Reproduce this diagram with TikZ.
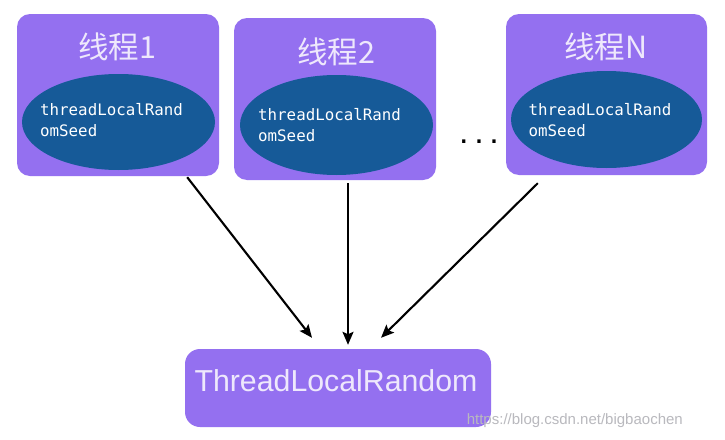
\documentclass[tikz,border=0pt]{standalone}
\usepackage{fontspec}
\setmainfont{Liberation Sans}
\newfontfamily\cjkfont{Noto Sans CJK SC}
\newfontfamily\monofont{DejaVu Sans Mono}
\usetikzlibrary{shapes.geometric,arrows.meta}
\definecolor{boxpurple}{RGB}{148,112,240}
\definecolor{ellblue}{RGB}{22,90,152}
\definecolor{lighttxt}{RGB}{238,232,252}
\definecolor{wmgrey}{RGB}{185,185,190}
\tikzset{
  threadbox/.style={rectangle, rounded corners=13pt, fill=boxpurple, draw=none, inner sep=0pt},
  seedell/.style={ellipse, fill=ellblue, draw=none, inner sep=0pt},
  titletxt/.style={font=\cjkfont\fontsize{30.5}{32}\selectfont, text=lighttxt, inner sep=0pt},
  seedtxt/.style={font=\monofont\fontsize{15.8}{20.5}\selectfont, text=white, align=left, inner sep=0pt, anchor=west},
  conn/.style={line width=2.1pt, black, -{Stealth[length=13pt,width=11pt,inset=2.5pt]}}
}
\begin{document}
\begin{tikzpicture}[x=1pt,y=-1pt]
\useasboundingbox (0,0) rectangle (725,439);
\fill[white] (0,0) rectangle (725,439);
% thread boxes
\node[threadbox, minimum width=202pt, minimum height=162pt] (b1) at (118,95) {};
\node[threadbox, minimum width=202pt, minimum height=162pt] (b2) at (335,99) {};
\node[threadbox, minimum width=201pt, minimum height=161pt] (bN) at (606.5,94.5) {};
% ellipses
\node[seedell, minimum width=193pt, minimum height=96pt] (e1) at (118.5,122) {};
\node[seedell, minimum width=193pt, minimum height=100pt] (e2) at (336.5,125) {};
\node[seedell, minimum width=191pt, minimum height=97pt] (eN) at (606.5,119.5) {};
% titles
\node[titletxt] (t1) at (117,47) {线程1};
\node[titletxt] (t2) at (336,52) {线程2};
\node[titletxt] (tN) at (606,47) {线程N};
% seed texts
\node[seedtxt] (s1) at (40,120) {threadLocalRand\\omSeed};
\node[seedtxt] (s2) at (258,125) {threadLocalRand\\omSeed};
\node[seedtxt] (sN) at (528.5,120) {threadLocalRand\\omSeed};
% dots
\node[font=\fontsize{34}{36}\selectfont, inner sep=0pt, anchor=base] (dots) at (479,143) {.\,.\,.};
% bottom box
\node[threadbox, rounded corners=15pt, minimum width=306pt, minimum height=78pt] (bot) at (338,388) {};
\node[font=\fontsize{30.3}{32}\selectfont, text=lighttxt, inner sep=0pt, anchor=base] (botlbl) at (336,391) {ThreadLocalRandom};
% connectors
\draw[conn] ([xshift=-32pt,yshift=-1pt]b1.south east) -- ([xshift=-26pt,yshift=11pt]bot.north);
\draw[conn] ([xshift=13pt,yshift=-3pt]b2.south) -- ([xshift=10pt,yshift=4pt]bot.north);
\draw[conn] ([xshift=32pt,yshift=-8pt]bN.south west) -- ([xshift=43pt,yshift=11pt]bot.north);
% watermark
\node[font=\fontsize{15}{16}\selectfont, text=wmgrey, inner sep=0pt, anchor=base east] (wm) at (683,424) {https://blog.csdn.net/bigbaochen};
\end{tikzpicture}
\end{document}
